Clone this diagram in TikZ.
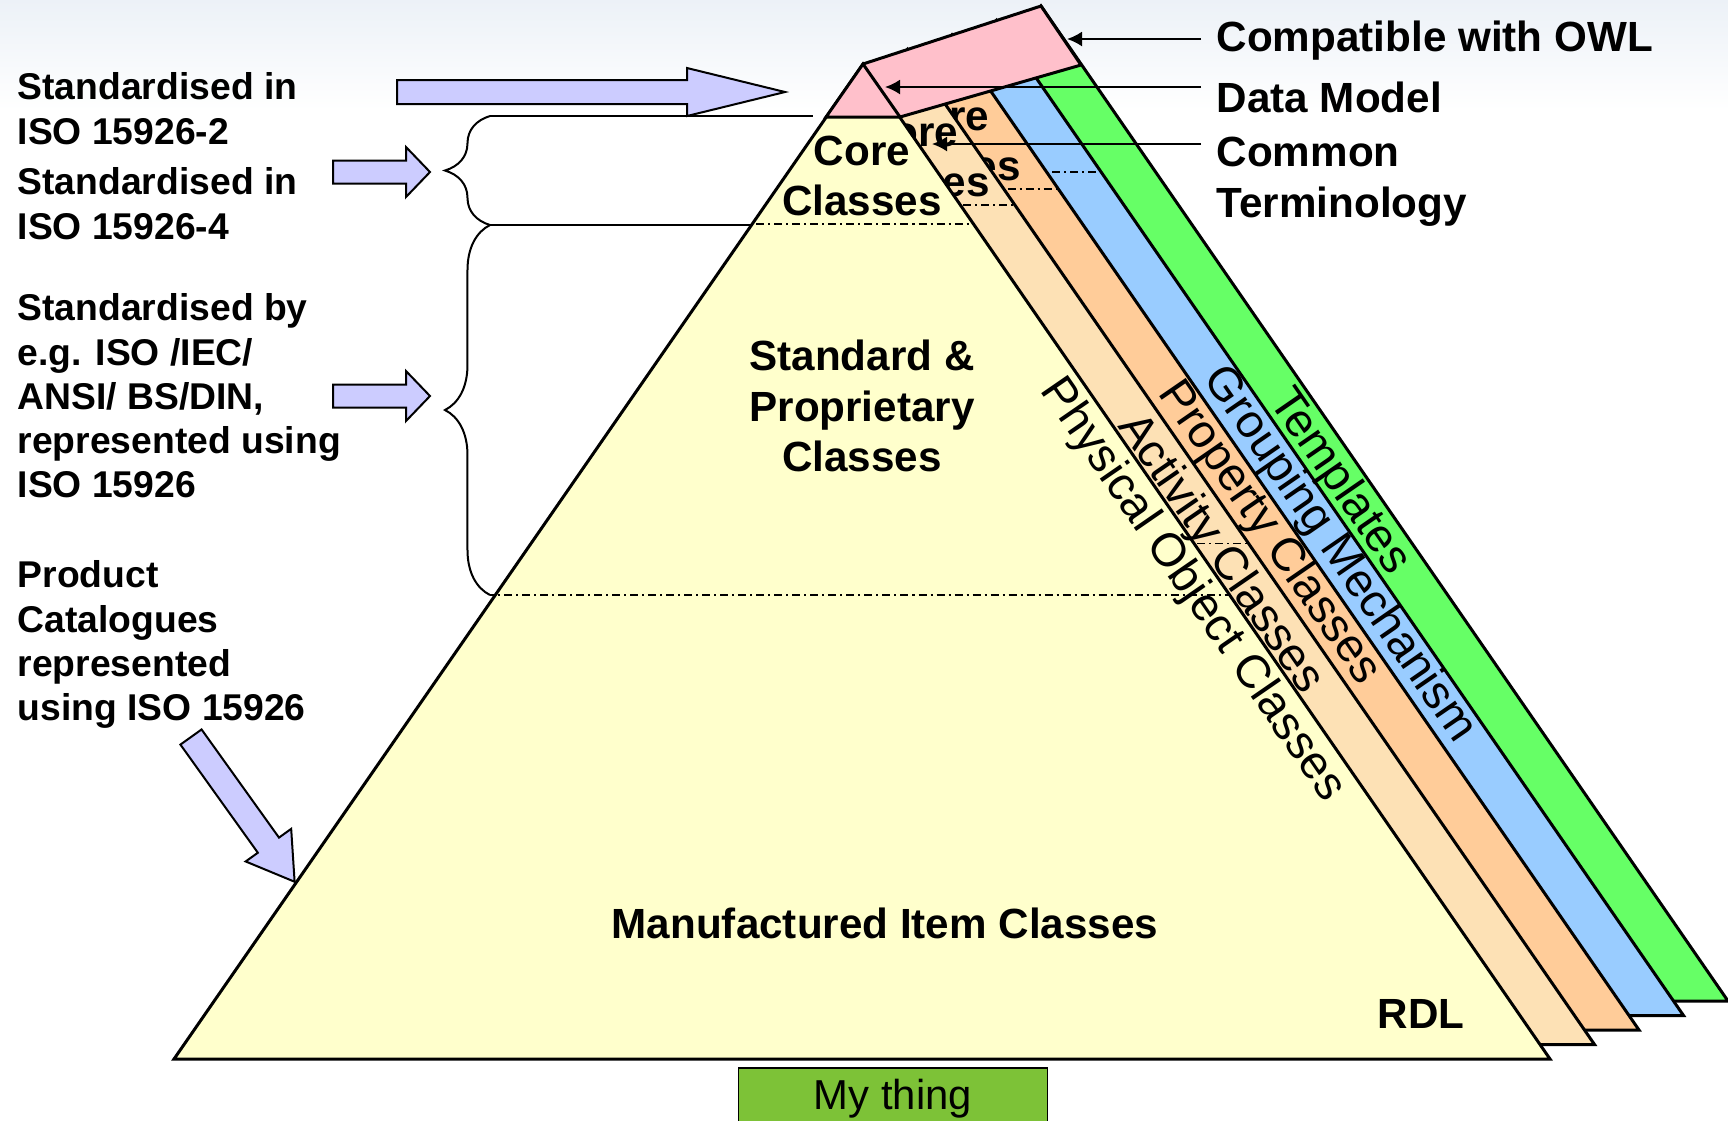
\documentclass[tikz,border=0pt]{standalone}
\usepackage{fontspec}
\setmainfont{Liberation Sans}
\usetikzlibrary{arrows.meta,decorations.pathreplacing}

\definecolor{rdlyellow}{HTML}{FFFFCC}
\definecolor{actbeige}{HTML}{FDE1B5}
\definecolor{proporange}{HTML}{FFCC99}
\definecolor{grpblue}{HTML}{99CCFF}
\definecolor{tplgreen}{HTML}{66FF66}
\definecolor{owlpink}{HTML}{FFC0CB}
\definecolor{isoblue}{HTML}{CCCCFF}
\definecolor{mygreen}{HTML}{7DC237}
\definecolor{bgtop}{RGB}{236,241,247}

\tikzset{
  pics/isoarrow/.style n args={4}{code={
    \draw[fatarrow] (0,-#2) -- (#1-#4,-#2) -- (#1-#4,-#3) -- (#1,0)
      -- (#1-#4,#3) -- (#1-#4,#2) -- (0,#2) -- cycle;
  }}
}

\begin{document}
\begin{tikzpicture}[x=0.01cm,y=-0.01cm,
    outline/.style={draw=black,line width=0.03cm},
    cut/.style={line width=0.012cm,dash pattern=on 0.08cm off 0.04cm on 0.02cm off 0.04cm},
    fatarrow/.style={draw=black,fill=isoblue,line width=0.02cm},
    lead/.style={line width=0.02cm},
    pointer/.style={line width=0.02cm,-{Latex[length=0.15cm,width=0.15cm]}},
    bracket/.style={line width=0.02cm,decorate,decoration={brace,amplitude=0.45cm}},
    note/.style={font=\bfseries\fontsize{10.6}{12.6}\selectfont,align=left,anchor=north west,inner sep=0pt},
    side/.style={font=\bfseries\fontsize{12}{14.7}\selectfont,align=left,inner xsep=0.15cm,inner ysep=0pt},
    tier/.style={font=\bfseries\fontsize{12}{14.3}\selectfont,align=center,inner sep=0pt},
    strip/.style={font=\fontsize{13.3}{16}\selectfont,rotate=-55.4,inner sep=0pt},
    thing/.style={draw=black,fill=mygreen,line width=0.015cm,minimum width=3.09cm,
      minimum height=0.6cm,anchor=north,font=\fontsize{11.9}{14}\selectfont}]

\useasboundingbox (0,0) rectangle (1728,1120);
\shade[top color=bgtop,bottom color=white] (0,0) rectangle (1728,110);

% stacked layers, back to front (\cx,\cy: offset of the layer's contents, \low: lower cut)
\foreach \k/\c/\cx/\cy/\low in {4/tplgreen/0/0/0,3/grpblue/0/-8.5/0,2/proporange/-10/-6/0,
                                 1/actbeige/3.5/-4.5/558,0/rdlyellow/0/0/595}{
  \begin{scope}[shift={(44.5*\k,-14.5*\k)}]
    \draw[outline,fill=\c] (863,64) -- (174,1059) -- (1550,1059) -- cycle;
    \ifnum\k<4
      \begin{scope}
        \clip (863,64) -- (174,1059) -- (1550,1059) -- cycle;
        \draw[cut] (0,224+\cy) -- (1728,224+\cy);
        \ifnum\low>0 \draw[cut] (0,\low) -- (1728,\low); \fi
      \end{scope}
    \fi
    \ifnum\k<3
      \node[tier] at (862+\cx,176+\cy) {Core\\Classes};
    \fi
  \end{scope}
}

% pink top
\draw[outline,fill=owlpink] (863,64) -- (1041,6) -- (1081,65) -- (900,117) -- (826,117) -- cycle;
\draw[outline] (863,64) -- (900,117);

\node[tier] (std) at (862,406) {Standard \&\\Proprietary\\Classes};
\node[tier] (mfg) at (885,923) {Manufactured Item Classes};
\node[tier] (rdl) at (1421,1014) {RDL};

% braces on the left
\coordinate (b1top) at (490,116);
\coordinate (b1bot) at (490,225);
\coordinate (b2bot) at (490,595);
\coordinate (tipedge) at (813,116);
\coordinate (coreedge) at (751,225);
\coordinate (stdedge) at (496,595);
\draw[lead] (b1top) -- (tipedge);
\draw[lead] (b1bot) -- (coreedge);
\draw[lead] (b2bot) -- (stdedge);
\draw[bracket] (b1bot) -- (b1top);
\draw[bracket] (b2bot) -- (b1bot);

\pic at (397,92) {isoarrow={388}{12}{24}{98}};
\pic at (333,172) {isoarrow={97}{11.5}{25}{24}};
\pic at (333,396) {isoarrow={97}{11.5}{25}{24}};
\pic[rotate=-54.4] at (191,737) {isoarrow={178}{13}{28}{45}};

\node[note] (iso2) at (17,72) {Standardised in\\ISO 15926-2};
\node[note] (iso4) at (17,167) {Standardised in\\ISO 15926-4};
\node[note] (stdby) at (17,293) {Standardised by\\e.g. ISO /IEC/\\ANSI/ BS/DIN,\\represented using\\ISO 15926};
\node[note] (catalog) at (17,560) {Product\\Catalogues\\represented\\using ISO 15926};

% labels on the right
\node[side,anchor=base west] (owl) at (1201,51) {Compatible with OWL};
\node[side,anchor=base west] (dm) at (1201,112) {Data Model};
\node[side,anchor=north west] (term) at (1201,136) {Common\\Terminology};
\coordinate (owltip) at (1067,39);
\coordinate (dmtip) at (885,87);
\coordinate (termtip) at (932,144);
\draw[pointer] (owl.west |- owltip) -- (owltip);
\draw[pointer] (dm.west |- dmtip) -- (dmtip);
\draw[pointer] (term.west |- termtip) -- (termtip);

% band labels
\node[strip] (physical) at (1192,590) {Physical Object Classes};
\node[strip] (activity) at (1220,554) {Activity Classes};
\node[strip] (property) at (1269,533) {Property Classes};
\node[strip] (grouping) at (1339,555) {Grouping Mechanism};
\node[strip] (templates) at (1339,482) {Templates};

\node[thing] (mything) at (893,1067) {My thing};
\end{tikzpicture}
\end{document}
